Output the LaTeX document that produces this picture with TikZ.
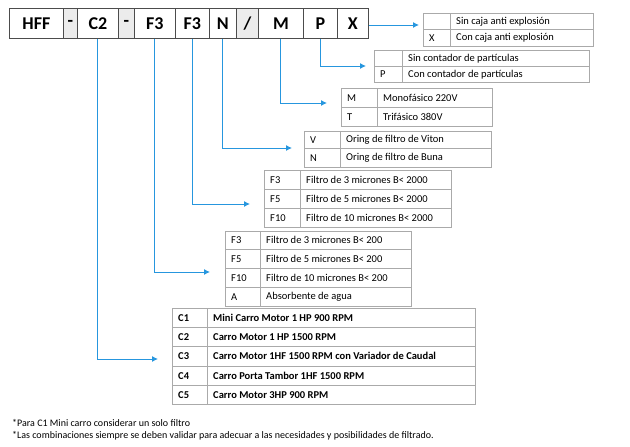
\documentclass[tikz,border=0pt]{standalone}
\usepackage{fontspec}
\setmainfont{Carlito}
\usetikzlibrary{arrows.meta,positioning}
\definecolor{linkblue}{RGB}{38,150,222}
\definecolor{gridgray}{RGB}{170,170,170}
\definecolor{sepgray}{RGB}{236,236,236}

% one row of an option table: name, x0, xsplit, x1, ytop, ybot, code, text
\newcommand{\optrow}[8]{%
  \node[cell, minimum width={(#3-#2)*1pt}, minimum height={(#6-#5)*1pt}] (#1c) at (#2,-#5) {};
  \node[cell, minimum width={(#4-#3)*1pt}, minimum height={(#6-#5)*1pt}] (#1t) at (#3,-#5) {};
  \node[lbl] at ([xshift=6pt]#1c.west) {#7};
  \node[lbl] at ([xshift=6pt]#1t.west) {#8};}

\begin{document}
\begin{tikzpicture}[x=1pt,y=1pt]
\tikzset{
  cell/.style={draw=gridgray, line width=0.6pt, anchor=north west, inner sep=0pt},
  code/.style={draw=black!70, line width=0.8pt, anchor=north west, inner sep=0pt,
    minimum height=30pt, font=\fontsize{18}{20}\selectfont\bfseries},
  sep/.style={code, fill=sepgray},
  lbl/.style={anchor=west, inner sep=0pt, font=\fontsize{10.5}{12}\selectfont},
  link/.style={draw=linkblue, line width=1pt, -{Latex[length=6pt,width=6pt]}},
  note/.style={anchor=west, inner sep=0pt, font=\fontsize{10}{12}\selectfont}
}
\useasboundingbox (0,0) rectangle (630,-447);

% code row
\node[code, minimum width=54pt] (cHFF) at (9,-8) {HFF};
\node[sep, minimum width=14pt] (cD1) at (63,-8) {-};
\node[code, minimum width=41pt] (cC2) at (77,-8) {C2};
\node[sep, minimum width=16pt] (cD2) at (118,-8) {-};
\node[code, minimum width=41pt] (cFa) at (134,-8) {F3};
\node[code, minimum width=34pt] (cFb) at (175,-8) {F3};
\node[code, minimum width=27pt] (cN) at (209,-8) {N};
\node[sep, minimum width=22pt] (cS) at (236,-8) {/};
\node[code, minimum width=45pt] (cM) at (258,-8) {M};
\node[code, minimum width=34pt] (cP) at (303,-8) {P};
\node[code, minimum width=31pt] (cX) at (337,-8) {X};

% option tables
\optrow{xa}{423}{450}{593}{13}{29}{}{Sin caja anti explosión}
\optrow{xb}{423}{450}{593}{29}{46}{X}{Con caja anti explosión}
\optrow{pa}{374}{402}{589}{50}{66}{}{Sin contador de partículas}
\optrow{pb}{374}{402}{589}{66}{82}{P}{Con contador de partículas}
\optrow{ma}{341}{377}{492}{88}{107}{M}{Monofásico 220V}
\optrow{mb}{341}{377}{492}{107}{126}{T}{Trifásico 380V}
\optrow{na}{304}{340}{491}{131}{148}{V}{Oring de filtro de Viton}
\optrow{nb}{304}{340}{491}{148}{167}{N}{Oring de filtro de Buna}
\optrow{fa}{264}{300}{451}{170}{189}{F3}{Filtro de 3 micrones B< 2000}
\optrow{fb}{264}{300}{451}{189}{208}{F5}{Filtro de 5 micrones B< 2000}
\optrow{fc}{264}{300}{451}{208}{227}{F10}{Filtro de 10 micrones B< 2000}
\optrow{ga}{225}{260}{411}{231}{249}{F3}{Filtro de 3 micrones B< 200}
\optrow{gb}{225}{260}{411}{249}{268}{F5}{Filtro de 5 micrones B< 200}
\optrow{gc}{225}{260}{411}{268}{287}{F10}{Filtro de 10 micrones B< 200}
\optrow{gd}{225}{260}{411}{287}{306}{A}{Absorbente de agua}
\optrow{ca}{172}{207}{475}{308}{327}{\textbf{C1}}{\textbf{Mini Carro Motor 1 HP 900 RPM}}
\optrow{cb}{172}{207}{475}{327}{346}{\textbf{C2}}{\textbf{Carro Motor 1 HP 1500 RPM}}
\optrow{cc}{172}{207}{475}{346}{366}{\textbf{C3}}{\textbf{Carro Motor 1HF 1500 RPM con Variador de Caudal}}
\optrow{cd}{172}{207}{475}{366}{385}{\textbf{C4}}{\textbf{Carro Porta Tambor 1HF 1500 RPM}}
\optrow{ce}{172}{207}{475}{385}{404}{\textbf{C5}}{\textbf{Carro Motor 3HP 900 RPM}}

% arrow ends
\coordinate (eX) at (419,-25);
\coordinate (eP) at (366,-66);
\coordinate (eM) at (327,-103);
\coordinate (eN) at (292,-148);
\coordinate (eFb) at (250,-204);
\coordinate (eFa) at (210,-272);
\coordinate (eC2) at (158,-359);

\draw[link] (cX.east |- eX) -- (eX);
\draw[link] (cP.south) |- (eP);
\draw[link] (cM.south) |- (eM);
\draw[link] (cN.south) |- (eN);
\draw[link] (cFb.south) |- (eFb);
\draw[link] (cFa.south) |- (eFa);
\draw[link] (cC2.south) |- (eC2);

% notes
\node[note] (n1) at (12,-423) {*Para C1 Mini carro considerar un solo filtro};
\node[note] (n2) at (12,-436) {*Las combinaciones siempre se deben validar para adecuar a las necesidades y posibilidades de filtrado.};
\end{tikzpicture}
\end{document}
